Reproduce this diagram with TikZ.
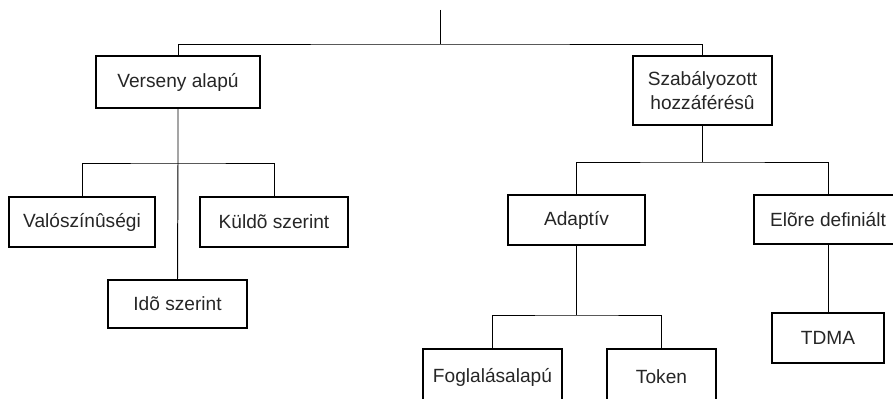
\documentclass[tikz,border=0pt]{standalone}
\usepackage{fontspec}
\setmainfont{Liberation Sans}
\usetikzlibrary{positioning,calc}
\tikzstyle{box}=[rectangle,draw=black,line width=1.4pt,fill=white,inner sep=0pt,align=center,text=black!85,font=\fontsize{13.6}{17}\selectfont]
\tikzstyle{link}=[line width=0.7pt,draw=black]

\begin{document}
\begin{tikzpicture}[x=0.025cm, y=-0.025cm]
  \useasboundingbox (0,0) rectangle (893,399);
  \clip (0,0) rectangle (893,399);

  \coordinate (root) at (440, 10);
  \coordinate (rootsplit) at (440, 44);

  \node [box, minimum width=4.1cm,  minimum height=1.3cm]   at (178, 82)    (verseny) {Verseny alapú};
  \node [box, minimum width=3.475cm, minimum height=1.725cm] at (702.5, 90.5) (szabaly) {Szabályozott\\hozzáférésû};

  \node [box, minimum width=3.65cm,  minimum height=1.25cm] at (82, 222)    (valosz) {Valószínûségi};
  \node [box, minimum width=3.7cm,   minimum height=1.25cm] at (274, 222)   (kuldo)  {Küldõ szerint};
  \node [box, minimum width=3.475cm, minimum height=1.2cm]  at (177.5, 304) (ido)    {Idõ szerint};

  \node [box, minimum width=3.425cm, minimum height=1.25cm] at (576.5, 220)  (adaptiv) {Adaptív};
  \node [box, minimum width=3.7cm,   minimum height=1.225cm] at (828, 219.5) (elore)   {Elõre definiált};
  \node [box, minimum width=2.8cm,   minimum height=1.25cm] at (828, 338)    (tdma)    {TDMA};

  \node [box, minimum width=3.475cm, minimum height=1.4cm] at (492.5, 377)  (foglalas) {Foglalásalapú};
  \node [box, minimum width=2.725cm, minimum height=1.4cm] at (661.5, 377)  (token)    {Token};

  \draw [link] (root) -- (rootsplit);
  \draw [link] (verseny.north) |- (rootsplit) -| (szabaly.north);

  \coordinate (vsplit) at (178, 163);
  \draw [link] (verseny.south) -- (vsplit) -- (ido.north);
  \draw [link] (valosz.north) |- (vsplit) -| (kuldo.north);

  \coordinate (ssplit) at (702.5, 162);
  \draw [link] (szabaly.south) -- (ssplit);
  \draw [link] (adaptiv.north) |- (ssplit) -| (elore.north);

  \coordinate (asplit) at (576.5, 315);
  \draw [link] (adaptiv.south) -- (asplit);
  \draw [link] (foglalas.north) |- (asplit) -| (token.north);

  \draw [link] (elore) -- (tdma);
\end{tikzpicture}
\end{document}
